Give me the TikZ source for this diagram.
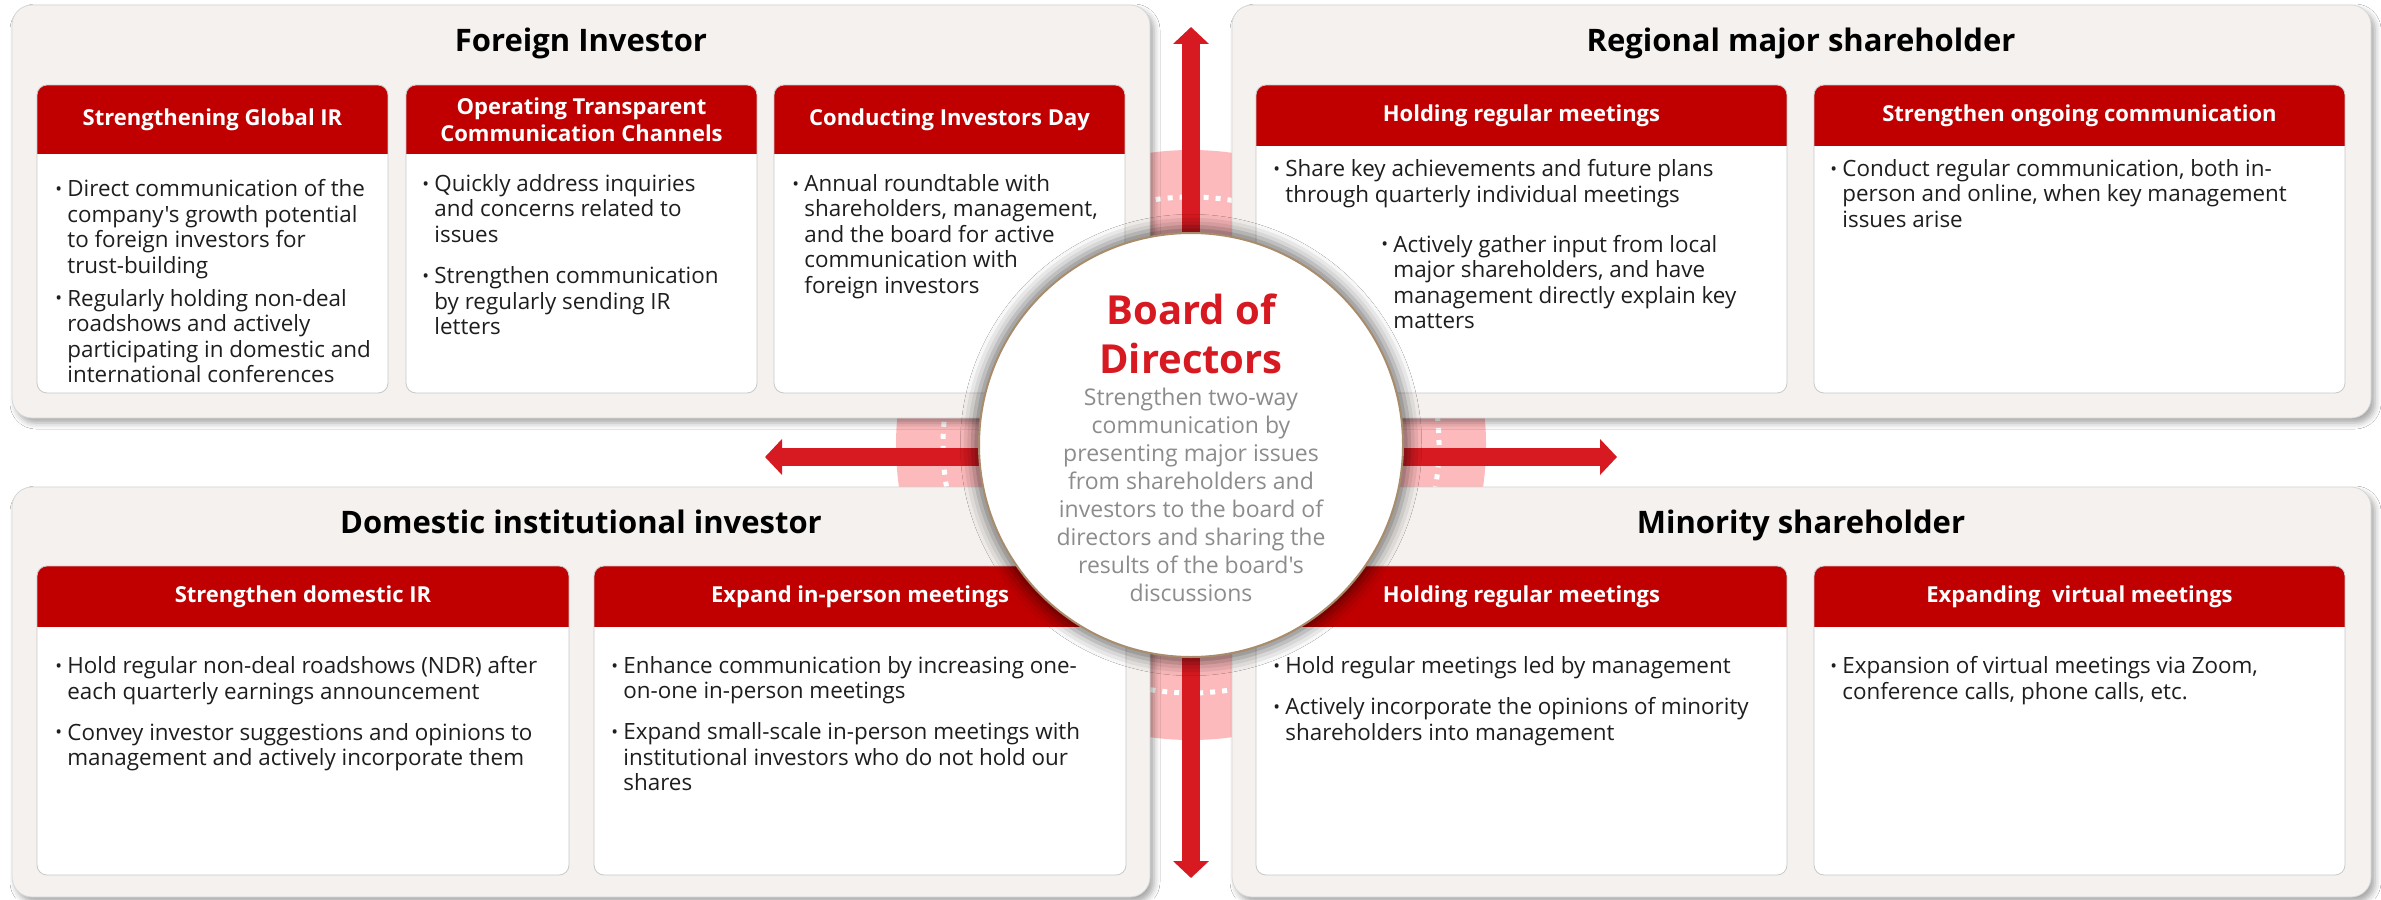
\documentclass[tikz,border=0pt]{standalone}
\usepackage{fontspec}
\setmainfont{Open Sans}
\newfontfamily\plainsans{Open Sans}
\usepackage{xcolor}
\usepackage{tikz}
\usetikzlibrary{positioning,arrows.meta,shadows.blur}

\definecolor{panelbg}{RGB}{244,241,238}
\definecolor{panelline}{RGB}{215,215,215}
\definecolor{cardline}{RGB}{200,200,200}
\definecolor{hdrred}{RGB}{192,0,0}
\definecolor{arrowred}{RGB}{215,25,33}
\definecolor{ringpink}{RGB}{253,186,188}
\definecolor{rimtan}{RGB}{168,140,108}
\definecolor{softgray}{RGB}{140,140,140}
\definecolor{bodyink}{RGB}{30,30,30}

% bullet and hanging indent for the card texts
\newcommand{\bl}{\makebox[6pt][l]{\raisebox{0.6pt}{\small\textbullet}}}
\newcommand{\ind}{\hspace*{6pt}}

\begin{document}
\begin{tikzpicture}[
    x=0.5pt, y=-0.5pt,
    panel/.style={draw=panelline, fill=panelbg, rounded corners=10pt, inner sep=0pt, outer sep=0pt, anchor=north west,
        blur shadow={shadow xshift=2pt, shadow yshift=-2.5pt, shadow blur radius=3pt, shadow opacity=35}},
    card/.style={draw=cardline, fill=white, rounded corners=5pt, inner sep=0pt, outer sep=0pt, anchor=north west,
        path picture={\fill[hdrred, sharp corners] (path picture bounding box.north west) rectangle ([yshift=-#1]path picture bounding box.north east);}},
    card/.default=30.5pt,
    ptitle/.style={anchor=base, inner sep=0pt, font=\fontsize{15.5}{18}\selectfont\bfseries},
    hdr/.style={text=white, align=center, inner sep=0pt, font=\fontsize{11}{13.5}\selectfont\bfseries},
    body/.style={anchor=north west, align=left, inner sep=0pt, text=bodyink, font=\plainsans\fontsize{11.2}{12.75}\selectfont},
    bigarrow/.style={arrowred, line width=9pt, -{Triangle[width=17.5pt, length=8.5pt]}},
    bod/.style={circle, fill=white, draw=rimtan, line width=1pt, minimum size=212pt, inner sep=0pt,
        blur shadow={shadow xshift=0pt, shadow yshift=0pt, shadow scale=1.03, shadow blur radius=6pt, shadow opacity=50}}
]
\useasboundingbox (0,0) rectangle (2381,899);
\fill[white] (0,0) rectangle (2381,899);

% ring behind the board
\coordinate (ctr) at (1191,445);
\fill[ringpink] (ctr) circle (147.5pt);
\draw[white, line width=2.5pt, dash pattern=on 2.5pt off 3.5pt] (ctr) circle (124pt);

% the four groups
\node[panel, minimum width=569pt, minimum height=206.5pt] (fpanel) at (12,5) {};
\node[panel, minimum width=569.5pt, minimum height=206.5pt] (rpanel) at (1232,5) {};
\node[panel, minimum width=569pt, minimum height=205pt] (dpanel) at (12,487) {};
\node[panel, minimum width=569.5pt, minimum height=205pt] (mpanel) at (1232,487) {};

\node[ptitle] (ftitle) at (581,52) {Foreign Investor};
\node[ptitle] (rtitle) at (1801,52) {Regional major shareholder};
\node[ptitle] (dtitle) at (581,533) {Domestic institutional investor};
\node[ptitle] (mtitle) at (1801,533) {Minority shareholder};

% Foreign Investor
\node[card=34.5pt, minimum width=175.5pt, minimum height=154pt] (fi1) at (37,85) {};
\node[card=34.5pt, minimum width=175.5pt, minimum height=154pt, right=9pt of fi1] (fi2) {};
\node[card=34.5pt, minimum width=175.5pt, minimum height=154pt, right=8.5pt of fi2] (fi3) {};
\node[hdr] (fi1h) at ([yshift=-17.25pt]fi1.north) {Strengthening Global IR};
\node[hdr] (fi2h) at ([yshift=-17.25pt]fi2.north) {Operating Transparent\\Communication Channels};
\node[hdr] (fi3h) at ([yshift=-17.25pt]fi3.north) {Conducting Investors Day};
\node[body] (fi1t) at ([xshift=9pt, yshift=-47pt]fi1.north west)
    {\bl Direct communication of the\\\ind company's growth potential\\\ind to foreign investors for\\\ind trust-building\\[3.75pt]
     \bl Regularly holding non-deal\\\ind roadshows and actively\\\ind participating in domestic and\\\ind international conferences};
\node[body] (fi2t) at ([xshift=8pt, yshift=-44.5pt]fi2.north west)
    {\bl Quickly address inquiries\\\ind and concerns related to\\\ind issues\\[8pt]
     \bl Strengthen communication\\\ind by regularly sending IR\\\ind letters};
\node[body] (fi3t) at ([xshift=9pt, yshift=-44.5pt]fi3.north west)
    {\bl Annual roundtable with\\\ind shareholders, management,\\\ind and the board for active\\\ind communication with\\\ind foreign investors};

% Regional major shareholder
\node[card, minimum width=265.5pt, minimum height=154pt] (rm1) at (1256,85) {};
\node[card, minimum width=265.5pt, minimum height=154pt, right=13.5pt of rm1] (rm2) {};
\node[hdr] (rm1h) at ([yshift=-15.25pt]rm1.north) {Holding regular meetings};
\node[hdr] (rm2h) at ([yshift=-15.25pt]rm2.north) {Strengthen ongoing communication};
\node[body] (rm1t) at ([xshift=8.5pt, yshift=-37pt]rm1.north west)
    {\bl Share key achievements and future plans\\\ind through quarterly individual meetings\\[12.25pt]
     \hspace*{54pt}\bl Actively gather input from local\\\hspace*{60pt}major shareholders, and have\\\hspace*{60pt}management directly explain key\\\hspace*{60pt}matters};
\node[body] (rm2t) at ([xshift=8pt, yshift=-37pt]rm2.north west)
    {\bl Conduct regular communication, both in-\\\ind person and online, when key management\\\ind issues arise};

% Domestic institutional investor
\node[card, minimum width=266pt, minimum height=154.5pt] (di1) at (37,566) {};
\node[card, minimum width=266pt, minimum height=154.5pt, right=12.5pt of di1] (di2) {};
\node[hdr] (di1h) at ([yshift=-15.25pt]di1.north) {Strengthen domestic IR};
\node[hdr] (di2h) at ([yshift=-15.25pt]di2.north) {Expand in-person meetings};
\node[body] (di1t) at ([xshift=9pt, yshift=-45pt]di1.north west)
    {\bl Hold regular non-deal roadshows (NDR) after\\\ind each quarterly earnings announcement\\[7.75pt]
     \bl Convey investor suggestions and opinions to\\\ind management and actively incorporate them};
\node[body] (di2t) at ([xshift=8.5pt, yshift=-45pt]di2.north west)
    {\bl Enhance communication by increasing one-\\\ind on-one in-person meetings\\[7.75pt]
     \bl Expand small-scale in-person meetings with\\\ind institutional investors who do not hold our\\\ind shares};

% Minority shareholder
\node[card, minimum width=265.5pt, minimum height=154.5pt] (ms1) at (1256,566) {};
\node[card, minimum width=265.5pt, minimum height=154.5pt, right=13.5pt of ms1] (ms2) {};
\node[hdr] (ms1h) at ([yshift=-15.25pt]ms1.north) {Holding regular meetings};
\node[hdr] (ms2h) at ([yshift=-15.25pt]ms2.north) {Expanding\ \ virtual meetings};
\node[body] (ms1t) at ([xshift=8.5pt, yshift=-45pt]ms1.north west)
    {\bl Hold regular meetings led by management\\[8pt]
     \bl Actively incorporate the opinions of minority\\\ind shareholders into management};
\node[body] (ms2t) at ([xshift=8pt, yshift=-45pt]ms2.north west)
    {\bl Expansion of virtual meetings via Zoom,\\\ind conference calls, phone calls, etc.};

% two-way arrows out of the board
\coordinate (uptip) at (1191,27);
\coordinate (downtip) at (1191,878);
\coordinate (lefttip) at (765,457);
\coordinate (righttip) at (1617,457);
\draw[bigarrow] (ctr) -- (uptip);
\draw[bigarrow] (ctr) -- (downtip);
\draw[bigarrow] (ctr |- lefttip) -- (lefttip);
\draw[bigarrow] (ctr |- righttip) -- (righttip);

% Board of Directors
\node[bod] (bod) at (ctr) {};
\node[anchor=north, align=center, inner sep=0pt, text=arrowred, font=\fontsize{20}{24.5}\selectfont\bfseries] (bodt) at (1191,293) {Board of\\Directors};
\node[anchor=north, align=center, inner sep=0pt, text=softgray, font=\plainsans\fontsize{11.5}{14}\selectfont] (bodd) at (1191,388)
    {Strengthen two-way\\communication by\\presenting major issues\\from shareholders and\\investors to the board of\\directors and sharing the\\results of the board's\\discussions};
\end{tikzpicture}
\end{document}
